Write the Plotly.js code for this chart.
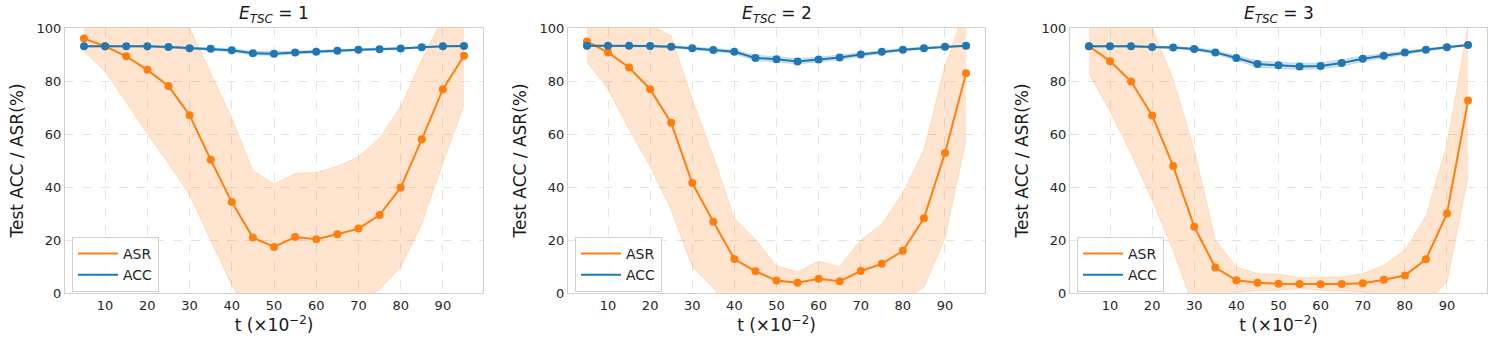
<!DOCTYPE html>
<html>
<head>
<meta charset="utf-8">
<script src="https://cdn.plot.ly/plotly-3.0.1.min.js"></script>
<style>
  body { margin: 0; background: #fff; }
  #chart { width: 1495px; height: 347px; }
</style>
</head>
<body>
<div id="chart"></div>
<script>
// t values (x10^-2)
const tValues = [5, 10, 15, 20, 25, 30, 35, 40, 45, 50, 55, 60, 65, 70, 75, 80, 85, 90, 95]
const panelTitles = ['1', '2', '3']

// E_TSC = 1
const asr1 = [96.0, 93.1, 89.3, 84.2, 78.1, 67.1, 50.3, 34.3, 20.9, 17.4, 21.1, 20.3, 22.2, 24.3, 29.4, 39.8, 58.0, 76.9, 89.5]
const asr1Upper = [101, 103, 106, 108, 106, 100, 83, 66, 46.2, 41.1, 45.1, 45.5, 47.7, 51.4, 58.4, 70.4, 88, 104, 108]
const asr1Lower = [91.2, 83.6, 72, 60, 49, 37, 20, 3, -10, -12, -13, -12, -8, -4, 1.3, 9.8, 26, 49, 71]
const acc1 = [93.1, 93.1, 93.1, 93.1, 92.8, 92.4, 92.2, 91.6, 90.5, 90.3, 90.8, 91.0, 91.4, 91.8, 92.0, 92.3, 92.7, 93.1, 93.2]
const acc1Spread = [0.3, 0.3, 0.3, 0.3, 0.3, 0.4, 0.5, 0.6, 0.7, 0.7, 0.6, 0.5, 0.5, 0.4, 0.4, 0.3, 0.3, 0.3, 0.3]

// E_TSC = 2
const asr2 = [94.9, 90.8, 85.1, 76.9, 64.2, 41.5, 26.9, 12.8, 8.2, 4.7, 3.9, 5.4, 4.4, 8.3, 11.0, 15.9, 28.2, 52.8, 82.9]
const asr2Upper = [104, 106, 106, 101, 97, 73, 51.6, 28.2, 20.2, 10.2, 8, 12, 9.9, 20, 26, 37.7, 54, 85.7, 108]
const asr2Lower = [87.2, 76.9, 61.7, 47.8, 31.4, 9.9, 2, -8, -12, -14, -13, -12, -11, -7, -5, -3, 2.3, 20.6, 57.9]
const acc2 = [93.3, 93.3, 93.3, 93.2, 92.9, 92.4, 91.7, 91.0, 88.7, 88.2, 87.4, 88.1, 88.9, 90.0, 91.0, 91.8, 92.4, 92.9, 93.3]
const acc2Spread = [0.3, 0.3, 0.3, 0.3, 0.4, 0.5, 0.6, 0.7, 1.0, 1.0, 1.0, 0.9, 0.9, 0.8, 0.6, 0.5, 0.4, 0.3, 0.3]

// E_TSC = 3
const asr3 = [93.1, 87.5, 79.8, 67.0, 47.9, 25.0, 9.6, 4.8, 3.9, 3.5, 3.4, 3.3, 3.4, 3.7, 5.0, 6.6, 12.7, 30.0, 72.6]
const asr3Upper = [104, 106, 106, 100, 80.5, 54, 20, 9.8, 7.3, 7.1, 5.8, 5.8, 6, 7.3, 10.5, 16.1, 29, 55.9, 101]
const asr3Lower = [83, 68.5, 52.7, 35, 16, -6, -3, 0.2, 1, 1, 1.6, 1, 0.8, 0.4, -1, -3, -4, 4.2, 43.9]
const acc3 = [93.1, 93.1, 93.1, 92.8, 92.6, 92.1, 90.8, 88.7, 86.4, 85.9, 85.5, 85.7, 86.8, 88.4, 89.5, 90.8, 91.8, 92.7, 93.6]
const acc3Spread = [0.3, 0.3, 0.3, 0.3, 0.4, 0.5, 0.7, 0.9, 1.2, 1.2, 1.2, 1.1, 1.2, 1.0, 0.8, 0.6, 0.5, 0.4, 0.3]

const asrMean = [asr1, asr2, asr3]
const asrUpper = [asr1Upper, asr2Upper, asr3Upper]
const asrLower = [asr1Lower, asr2Lower, asr3Lower]
const accMean = [acc1, acc2, acc3]
const accSpread = [acc1Spread, acc2Spread, acc3Spread]

const ORANGE = '#ff7f0e'
const BLUE = '#1f77b4'
const W = 1495, H = 347
const panelLeft = [65, 568, 1070]
const panelRight = [483, 985, 1487]
const plotTop = 28, plotBottom = 293

const data = []
const layout = {
    width: W,
    height: H,
    margin: {l: 0, r: 0, t: 0, b: 0},
    paper_bgcolor: '#fff',
    plot_bgcolor: '#fff',
    font: {family: 'DejaVu Sans', color: '#262626', size: 13},
    showlegend: true,
    annotations: []
}

for (let i = 0; i < 3; i++) {
    const n = i === 0 ? '' : String(i + 1)
    const xa = 'x' + n, ya = 'y' + n
    const legendName = i === 0 ? 'legend' : 'legend' + (i + 1)

    // ASR band
    data.push({x: tValues, y: asrUpper[i], xaxis: xa, yaxis: ya, mode: 'lines',
        line: {width: 0.8, color: 'rgba(255,127,14,0.25)'}, showlegend: false, hoverinfo: 'skip'})
    data.push({x: tValues, y: asrLower[i], xaxis: xa, yaxis: ya, mode: 'lines', fill: 'tonexty',
        fillcolor: 'rgba(255,127,14,0.2)', line: {width: 0.8, color: 'rgba(255,127,14,0.25)'},
        showlegend: false, hoverinfo: 'skip'})
    // ACC band
    data.push({x: tValues, y: accMean[i].map((v, k) => v + accSpread[i][k]), xaxis: xa, yaxis: ya,
        mode: 'lines', line: {width: 0.8, color: 'rgba(31,119,180,0.25)'}, showlegend: false, hoverinfo: 'skip'})
    data.push({x: tValues, y: accMean[i].map((v, k) => v - accSpread[i][k]), xaxis: xa, yaxis: ya,
        mode: 'lines', fill: 'tonexty', fillcolor: 'rgba(31,119,180,0.2)',
        line: {width: 0.8, color: 'rgba(31,119,180,0.25)'}, showlegend: false, hoverinfo: 'skip'})

    // mean lines
    data.push({x: tValues, y: asrMean[i], xaxis: xa, yaxis: ya, name: 'ASR', showlegend: false,
        mode: 'lines+markers', line: {color: ORANGE, width: 2}, marker: {color: ORANGE, size: 8}})
    data.push({x: tValues, y: accMean[i], xaxis: xa, yaxis: ya, name: 'ACC', showlegend: false,
        mode: 'lines+markers', line: {color: BLUE, width: 2}, marker: {color: BLUE, size: 8}})

    // legend entries (line only, like the reference)
    data.push({x: [null], y: [null], xaxis: xa, yaxis: ya, name: 'ASR', legend: legendName,
        mode: 'lines', line: {color: ORANGE, width: 2}})
    data.push({x: [null], y: [null], xaxis: xa, yaxis: ya, name: 'ACC', legend: legendName,
        mode: 'lines', line: {color: BLUE, width: 2}})

    const x0 = panelLeft[i] / W, x1 = panelRight[i] / W
    const y0 = 1 - plotBottom / H, y1 = 1 - plotTop / H

    layout['xaxis' + n] = {
        domain: [x0, x1],
        anchor: ya,
        range: [0.5, 99.5],
        tickvals: [10, 20, 30, 40, 50, 60, 70, 80, 90],
        showgrid: true,
        gridcolor: '#dddddd',
        griddash: 'dash',
        gridwidth: 0.8,
        zeroline: false,
        showline: true,
        mirror: true,
        linecolor: '#d0d0d0',
        linewidth: 1,
        ticks: '',
        tickfont: {size: 13, color: '#262626'},
        title: {text: 't (×10<sup>−2</sup>)', font: {size: 17, color: '#1a1a1a'}, standoff: 6}
    }
    layout['yaxis' + n] = {
        domain: [y0, y1],
        anchor: xa,
        range: [0, 100],
        tickvals: [0, 20, 40, 60, 80, 100],
        showgrid: true,
        gridcolor: '#dddddd',
        griddash: 'dash',
        gridwidth: 0.8,
        zeroline: false,
        showline: true,
        mirror: true,
        linecolor: '#d0d0d0',
        linewidth: 1,
        ticks: '',
        tickfont: {size: 13, color: '#262626'},
        title: {text: 'Test ACC / ASR(%)', font: {size: 17, color: '#1a1a1a'}, standoff: 8}
    }
    layout[legendName] = {
        x: (panelLeft[i] + 7) / W,
        y: 1 - 237 / H,
        xanchor: 'left',
        yanchor: 'top',
        traceorder: 'normal',
        bgcolor: 'rgba(255,255,255,0.8)',
        bordercolor: '#d0d0d0',
        borderwidth: 1,
        font: {size: 14, color: '#262626'},
        itemwidth: 40,
        tracegroupgap: 0
    }
    layout.annotations.push({
        text: '<i>E</i><sub><i>TSC</i></sub> = ' + panelTitles[i],
        xref: 'paper', yref: 'paper',
        x: (panelLeft[i] + panelRight[i]) / 2 / W,
        y: 1 - 15 / H,
        xanchor: 'center', yanchor: 'middle',
        showarrow: false,
        font: {size: 17, color: '#1a1a1a'}
    })
}

Plotly.newPlot('chart', data, layout, {displayModeBar: false, staticPlot: true})
</script>
</body>
</html>
